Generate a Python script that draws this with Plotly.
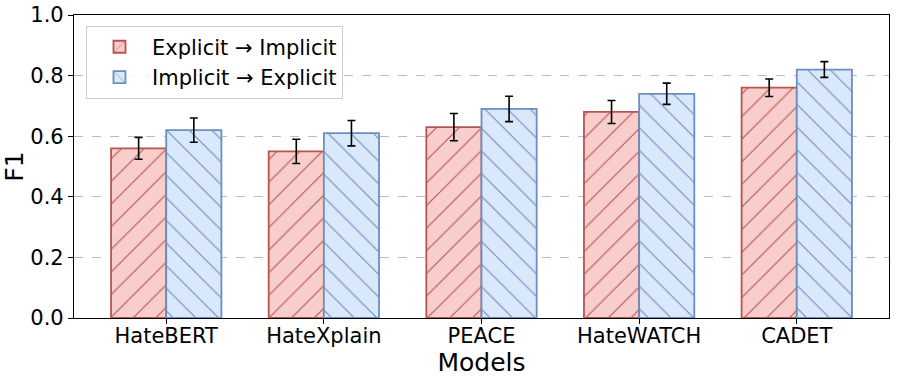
import plotly.graph_objects as go

models = ["HateBERT", "HateXplain", "PEACE", "HateWATCH", "CADET"]
exp_to_imp = [0.56, 0.55, 0.63, 0.68, 0.76]
exp_to_imp_err = [0.036, 0.04, 0.045, 0.038, 0.029]
imp_to_exp = [0.62, 0.61, 0.69, 0.74, 0.82]
imp_to_exp_err = [0.04, 0.042, 0.042, 0.035, 0.026]
series_names = ["Explicit → Implicit", "Implicit → Explicit"]

FONT = "DejaVu Sans"

fig = go.Figure()
fig.add_trace(go.Bar(
    x=models, y=exp_to_imp, name=series_names[0],
    marker=dict(color="#f8cecc", line=dict(color="#b85450", width=1.8),
                pattern=dict(shape="/", fgcolor="#b85450", bgcolor="#f8cecc",
                             size=16, solidity=0.07, fillmode="replace")),
    error_y=dict(type="data", array=exp_to_imp_err, color="black", thickness=1.6, width=4),
))
fig.add_trace(go.Bar(
    x=models, y=imp_to_exp, name=series_names[1],
    marker=dict(color="#dae8fc", line=dict(color="#6c8ebf", width=1.8),
                pattern=dict(shape="\\", fgcolor="#6c8ebf", bgcolor="#dae8fc",
                             size=16, solidity=0.07, fillmode="replace")),
    error_y=dict(type="data", array=imp_to_exp_err, color="black", thickness=1.6, width=4),
))

fig.update_layout(
    width=897, height=380,
    margin=dict(l=74, r=8, t=15, b=62, autoexpand=False),
    paper_bgcolor="white", plot_bgcolor="white",
    barmode="group", bargap=0.3, bargroupgap=0,
    font=dict(family=FONT, size=21, color="black"),
    legend=dict(x=0.0147, y=0.965, xanchor="left", yanchor="top",
                bgcolor="rgba(255,255,255,0.85)", bordercolor="#cccccc", borderwidth=1,
                font=dict(size=21, family=FONT), tracegroupgap=0, itemwidth=55),
    showlegend=True,
)
fig.update_xaxes(
    range=[-0.585, 4.585], showline=True, linecolor="black", linewidth=1.2, mirror=True,
    ticks="outside", ticklen=5, tickwidth=1.2, tickcolor="black", ticklabelstandoff=-6,
    title=dict(text="Models", font=dict(size=25, family=FONT), standoff=3),
    tickfont=dict(size=21, family=FONT), showgrid=False, automargin=True,
)
fig.update_yaxes(
    range=[0, 1.0], tickvals=[0, 0.2, 0.4, 0.6, 0.8, 1.0],
    ticktext=["0.0", "0.2", "0.4", "0.6", "0.8", "1.0"],
    showline=True, linecolor="black", linewidth=1.2, mirror=True,
    ticks="outside", ticklen=5, tickwidth=1.2, tickcolor="black",
    showgrid=True, gridcolor="#bbbbbb", griddash="dash", gridwidth=1,
    zeroline=False,
    title=dict(text="F1", font=dict(size=25, family=FONT), standoff=10),
    tickfont=dict(size=21, family=FONT), automargin=True,
)

fig.write_html("out.html", config={"displayModeBar": False},
               post_script="document.body.style.margin='0px';")
